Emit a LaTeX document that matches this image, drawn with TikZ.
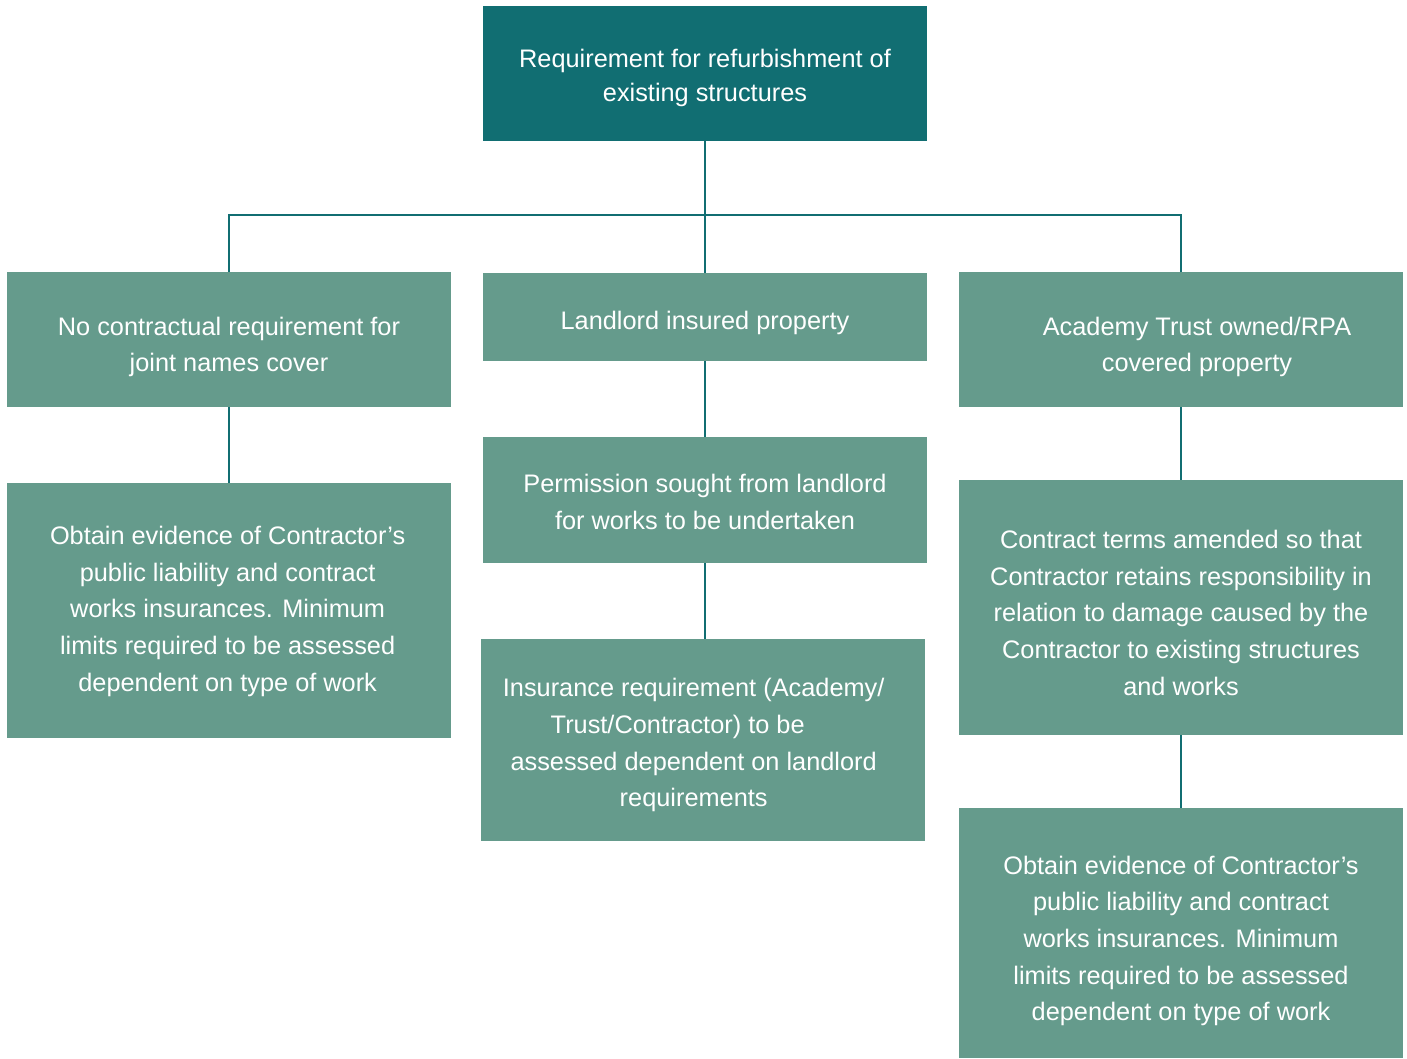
\documentclass[tikz,border=0pt]{standalone}
\usepackage{fontspec}
\setmainfont{Liberation Sans}
\definecolor{darkteal}{HTML}{116E72}
\definecolor{sage}{HTML}{659B8C}
\begin{document}
\begin{tikzpicture}[x=0.75pt,y=-0.75pt,
  box/.style={rectangle, fill=sage, draw=none, minimum width=333pt, inner sep=0pt},
  topbox/.style={box, fill=darkteal},
  txt/.style={inner sep=0pt, text=white, align=center, font=\fontsize{19}{27.5}\selectfont},
  toptxt/.style={txt, font=\fontsize{19}{25.5}\selectfont},
  conn/.style={draw=darkteal, line width=1.6pt}]
\useasboundingbox (0,0) rectangle (1407,1058);
% boxes
\node[topbox, minimum height=101.25pt] (top) at (705,73.5) {};
\node[box, minimum height=101.25pt] (L1) at (229,339.5) {};
\node[box, minimum height=66pt] (M1) at (705,317) {};
\node[box, minimum height=101.25pt] (R1) at (1181,339.5) {};
\node[box, minimum height=191.25pt] (L2) at (229,610.5) {};
\node[box, minimum height=94.5pt] (M2) at (705,500) {};
\node[box, minimum height=151.5pt] (M3) at (703,740) {};
\node[box, minimum height=191.25pt] (R2) at (1181,607.5) {};
\node[box, minimum height=187.5pt] (R3) at (1181,933) {};
% texts
\node[toptxt] (topt) at ([yshift=-3pt]top.center) {Requirement for refurbishment of\\existing structures};
\node[txt] (L1t) at ([yshift=-5.5pt]L1.center) {No contractual requirement for\\joint names cover};
\node[txt] (M1t) at ([yshift=-4.5pt]M1.center) {Landlord insured property};
\node[txt] (R1t) at ([xshift=12pt,yshift=-5.5pt]R1.center) {Academy Trust owned/RPA\\covered property};
\node[txt] (L2t) at ([xshift=-1pt,yshift=-0.5pt]L2.center) {Obtain evidence of Contractor’s\\public liability and contract\\works insurances. Minimum\\limits required to be assessed\\dependent on type of work};
\node[txt] (M2t) at ([yshift=-1.5pt]M2.center) {Permission sought from landlord\\for works to be undertaken};
\node[txt] (M3t) at ([xshift=-7pt,yshift=-4pt]M3.center) {Insurance requirement (Academy/\\Trust/Contractor) to be\hspace*{24pt}\mbox{}\\assessed dependent on landlord\\requirements};
\node[txt] (R2t) at ([yshift=-4pt]R2.center) {Contract terms amended so that\\Contractor retains responsibility in\\relation to damage caused by the\\Contractor to existing structures\\and works};
\node[txt] (R3t) at ([yshift=-6pt]R3.center) {Obtain evidence of Contractor’s\\public liability and contract\\works insurances. Minimum\\limits required to be assessed\\dependent on type of work};
% connectors
\coordinate (bus) at (705,215);
\draw[conn] (top.south) -- (M1.north);
\draw[conn] (L1.north) |- (bus) -| (R1.north);
\draw[conn] (L1.south) -- (L2.north);
\draw[conn] (M1.south) -- (M2.north);
\draw[conn] (M2.south) -- (M2.south |- M3.north);
\draw[conn] (R1.south) -- (R2.north);
\draw[conn] (R2.south) -- (R3.north);
\end{tikzpicture}
\end{document}
